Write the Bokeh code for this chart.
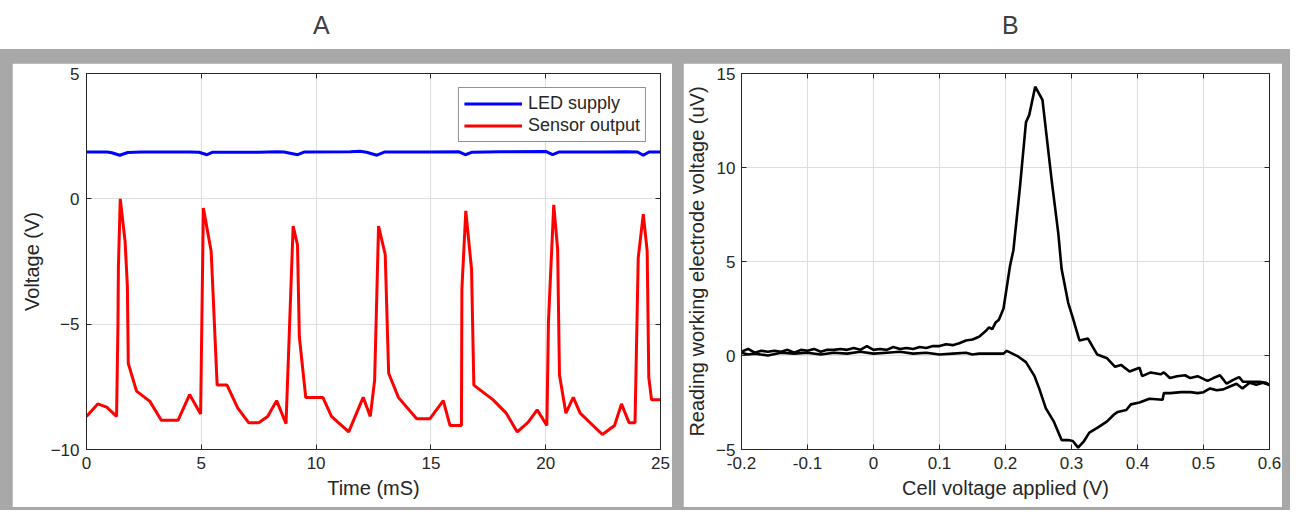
from bokeh.plotting import figure
from bokeh.models import Range1d, LinearAxis, FixedTicker, CustomJSTickFormatter, Div, Spacer
from bokeh.layouts import row, column
from bokeh.embed import file_html
from bokeh.resources import INLINE

# ---------------- data: panel A ----------------
led_t = [0, 0.9, 1.1, 1.45, 1.8, 2.4, 4.5, 4.9, 5.25, 5.5, 7.5, 8.3, 8.6, 9.2, 9.5,
         11.5, 11.9, 12.2, 12.65, 13.0, 15.0, 16.2, 16.5, 16.8, 18.0, 20.0, 20.3,
         20.6, 22.5, 23.5, 24.0, 24.25, 24.5, 25.0]
led_v = [1.87, 1.87, 1.84, 1.74, 1.85, 1.87, 1.87, 1.86, 1.76, 1.86, 1.86, 1.88, 1.87,
         1.76, 1.87, 1.88, 1.90, 1.86, 1.74, 1.87, 1.87, 1.88, 1.76, 1.86, 1.88, 1.89,
         1.76, 1.87, 1.87, 1.88, 1.87, 1.74, 1.87, 1.87]

sensor_t = [0, 0.49, 0.88, 1.31, 1.37, 1.39, 1.47, 1.68, 1.78, 1.82, 2.18, 2.76, 3.26,
            3.99, 4.49, 4.97, 5.09, 5.43, 5.69, 6.12, 6.59, 7.06, 7.50, 7.89, 8.28,
            8.69, 9.00, 9.19, 9.27, 9.55, 10.30, 10.67, 11.42, 12.05, 12.36, 12.55,
            12.72, 13.01, 13.16, 13.59, 14.38, 14.96, 15.54, 15.83, 16.33, 16.35,
            16.52, 16.77, 16.87, 17.71, 18.28, 18.76, 19.22, 19.63, 20.05, 20.12,
            20.35, 20.52, 20.60, 20.88, 21.20, 21.50, 22.47, 23.00, 23.30, 23.63,
            23.89, 24.03, 24.25, 24.42, 24.45, 24.49, 24.61, 25.0]
sensor_v = [-8.68, -8.18, -8.31, -8.68, -5.0, -2.7, 0.0, -1.69, -3.47, -6.57, -7.67,
            -8.08, -8.83, -8.83, -7.81, -8.58, -0.37, -2.09, -7.43, -7.43, -8.35,
            -8.93, -8.93, -8.68, -8.05, -8.97, -1.09, -1.84, -5.5, -7.93, -7.93,
            -8.68, -9.3, -7.92, -8.68, -7.23, -1.09, -2.22, -6.96, -7.93, -8.77,
            -8.77, -8.05, -9.04, -9.04, -3.6, -0.48, -2.81, -7.43, -8.02, -8.55,
            -9.3, -8.93, -8.42, -9.04, -4.9, -0.24, -2.02, -7.03, -8.55, -7.92,
            -8.55, -9.4, -9.04, -8.18, -8.93, -8.93, -2.35, -0.61, -2.09, -4.26,
            -7.12, -8.02, -8.02]

a_xticks = [0, 5, 10, 15, 20, 25]
a_yticks = [-10, -5, 0, 5]

# ---------------- data: panel B ----------------
cv_fwd_v = [-0.200, -0.19, -0.18, -0.17, -0.16, -0.15, -0.14, -0.13, -0.12, -0.11,
            -0.10, -0.09, -0.08, -0.07, -0.06, -0.05, -0.04, -0.03, -0.02, -0.01,
            0.0, 0.01, 0.02, 0.03, 0.04, 0.05, 0.06, 0.07, 0.08, 0.09, 0.10, 0.11,
            0.12, 0.13, 0.14, 0.15, 0.16, 0.17, 0.175, 0.18, 0.185, 0.19, 0.197,
            0.207, 0.212, 0.222, 0.231, 0.236, 0.245, 0.256, 0.27, 0.28, 0.285,
            0.295, 0.302, 0.312, 0.325, 0.339, 0.354, 0.366, 0.375, 0.388, 0.403,
            0.407, 0.42, 0.435, 0.44, 0.449, 0.46, 0.472, 0.48, 0.491, 0.506,
            0.515, 0.525, 0.535, 0.545, 0.554, 0.56, 0.575, 0.585, 0.595, 0.6]
cv_fwd_i = [0.2, 0.35, 0.15, 0.25, 0.2, 0.25, 0.2, 0.3, 0.15, 0.3, 0.25, 0.35, 0.2,
            0.3, 0.3, 0.35, 0.3, 0.4, 0.3, 0.5, 0.3, 0.35, 0.3, 0.45, 0.35, 0.4,
            0.35, 0.45, 0.4, 0.5, 0.5, 0.6, 0.55, 0.65, 0.8, 0.85, 1.0, 1.3, 1.5,
            1.4, 1.75, 1.9, 2.5, 4.8, 5.6, 9.0, 12.4, 12.8, 14.3, 13.6, 9.3, 6.5,
            4.6, 2.8, 2.0, 0.8, 0.9, 0.05, -0.15, -0.6, -0.5, -0.85, -0.65, -1.1,
            -0.9, -1.0, -0.9, -1.2, -1.1, -1.05, -1.2, -1.1, -1.35, -1.2, -1.05,
            -1.5, -1.3, -1.15, -1.4, -1.4, -1.4, -1.45, -1.57]
cv_rev_v = [0.6, 0.59, 0.58, 0.57, 0.559, 0.55, 0.54, 0.53, 0.52, 0.51, 0.5, 0.491,
            0.48, 0.466, 0.45, 0.44, 0.438, 0.418, 0.403, 0.39, 0.383, 0.37, 0.364,
            0.354, 0.339, 0.327, 0.319, 0.31, 0.302, 0.295, 0.285, 0.273, 0.261,
            0.251, 0.244, 0.231, 0.219, 0.202, 0.197, 0.18, 0.16, 0.15, 0.14, 0.12,
            0.10, 0.08, 0.06, 0.04, 0.02, 0.0, -0.02, -0.04, -0.06, -0.08, -0.10,
            -0.12, -0.14, -0.16, -0.18, -0.19, -0.2]
cv_rev_i = [-1.57, -1.45, -1.55, -1.45, -1.75, -1.5, -1.65, -1.8, -1.85, -1.75, -1.95,
            -2.0, -1.95, -1.95, -2.0, -2.0, -2.35, -2.3, -2.5, -2.6, -2.9, -3.0,
            -3.15, -3.5, -3.85, -4.1, -4.55, -4.9, -4.55, -4.5, -4.5, -3.5, -2.8,
            -1.75, -1.1, -0.35, -0.05, 0.25, 0.1, 0.1, 0.1, 0.05, 0.15, 0.1, 0.05,
            0.15, 0.1, 0.2, 0.15, 0.1, 0.2, 0.1, 0.15, 0.05, 0.15, 0.1, 0.15, 0.0,
            0.1, 0.05, 0.15]

b_xticks = [-0.2, -0.1, 0.0, 0.1, 0.2, 0.3, 0.4, 0.5, 0.6]
b_yticks = [-5, 0, 5, 10, 15]

FONT = "Liberation Sans"
TXT = "#262626"
GRAY = "#a8a8a8"


def style(p, xticks, yticks, fmt=None):
    p.xgrid.ticker = FixedTicker(ticks=xticks)
    p.ygrid.ticker = FixedTicker(ticks=yticks)
    for g in (p.xgrid[0], p.ygrid[0]):
        g.grid_line_color = "#dedede"
        g.grid_line_width = 1
    for ax, ticks in ((p.xaxis[0], xticks), (p.yaxis[0], yticks)):
        ax.ticker = FixedTicker(ticks=ticks)
        ax.major_tick_in = 5
        ax.major_tick_out = 0
        ax.minor_tick_line_color = None
        ax.axis_line_color = TXT
        ax.major_tick_line_color = TXT
        ax.major_label_text_font = FONT
        ax.major_label_text_font_size = "17px"
        ax.major_label_text_color = TXT
        ax.axis_label_text_font = FONT
        ax.axis_label_text_font_size = "20px"
        ax.axis_label_text_font_style = "normal"
        ax.axis_label_text_color = TXT
        ax.major_label_standoff = 7
    if fmt is not None:
        p.xaxis[0].formatter = fmt
    for loc, ticks in (("above", xticks), ("right", yticks)):
        ax = LinearAxis(ticker=FixedTicker(ticks=ticks), major_tick_in=5, major_tick_out=0,
                        minor_tick_line_color=None, axis_line_color=TXT,
                        major_tick_line_color=TXT, major_label_text_font_size="1px",
                        major_label_text_color=None, major_label_standoff=0)
        p.add_layout(ax, loc)
    p.outline_line_color = TXT
    p.border_fill_color = "white"
    p.background_fill_color = "white"


# ---------------- panel A ----------------
pA = figure(width=660, height=444, output_backend="svg", toolbar_location=None,
            x_range=Range1d(0, 25), y_range=Range1d(-10, 5),
            min_border_left=74, min_border_right=12, min_border_top=10, min_border_bottom=58)
pA.line(led_t, led_v, color="#0000ff", line_width=3, legend_label="LED supply")
pA.line(sensor_t, sensor_v, color="#ff0000", line_width=3, legend_label="Sensor output")
pA.xaxis[0].axis_label = "Time (mS)"
pA.yaxis[0].axis_label = "Voltage (V)"
style(pA, a_xticks, a_yticks)
lg = pA.legend[0]
lg.location = "top_right"
lg.margin = 14
lg.border_line_color = TXT
lg.border_line_width = 1
lg.label_text_font = FONT
lg.label_text_font_size = "18px"
lg.label_text_color = TXT
lg.glyph_width = 58
lg.glyph_height = 19
lg.label_height = 19
lg.spacing = 1
lg.padding = 5
lg.label_standoff = 6

# ---------------- panel B ----------------
pB = figure(width=599, height=444, output_backend="svg", toolbar_location=None,
            x_range=Range1d(-0.2, 0.6), y_range=Range1d(-5, 15),
            min_border_left=52, min_border_right=13, min_border_top=10, min_border_bottom=58)
pB.line(cv_fwd_v, cv_fwd_i, color="black", line_width=2.6)
pB.line(cv_rev_v, cv_rev_i, color="black", line_width=2.6)
pB.xaxis[0].axis_label = "Cell voltage applied (V)"
pB.yaxis[0].axis_label = "Reading working electrode voltage (uV)"
style(pB, b_xticks, b_yticks,
      fmt=CustomJSTickFormatter(code="return Number(tick.toFixed(1)).toString();"))
pB.yaxis[0].axis_label_standoff = 5
pB.yaxis[0].major_label_standoff = 6

titles = Div(text=(
    '<div style="position:relative;width:1290px;height:39px;'
    'font-family:\'Liberation Sans\';font-size:25px;color:#404040">'
    '<span style="position:absolute;left:308px;top:3px">A</span>'
    '<span style="position:absolute;left:997px;top:3px">B</span></div>'),
    width=1290, height=39)

panels = column(
    Spacer(width=1290, height=14),
    row(Spacer(width=12, height=444), pA, Spacer(width=11, height=444), pB,
        Spacer(width=8, height=444)),
    Spacer(width=1290, height=3),
    styles={"background-color": GRAY},
)

layout = column(titles, panels)
open("out.html", "w").write(file_html(layout, INLINE))
